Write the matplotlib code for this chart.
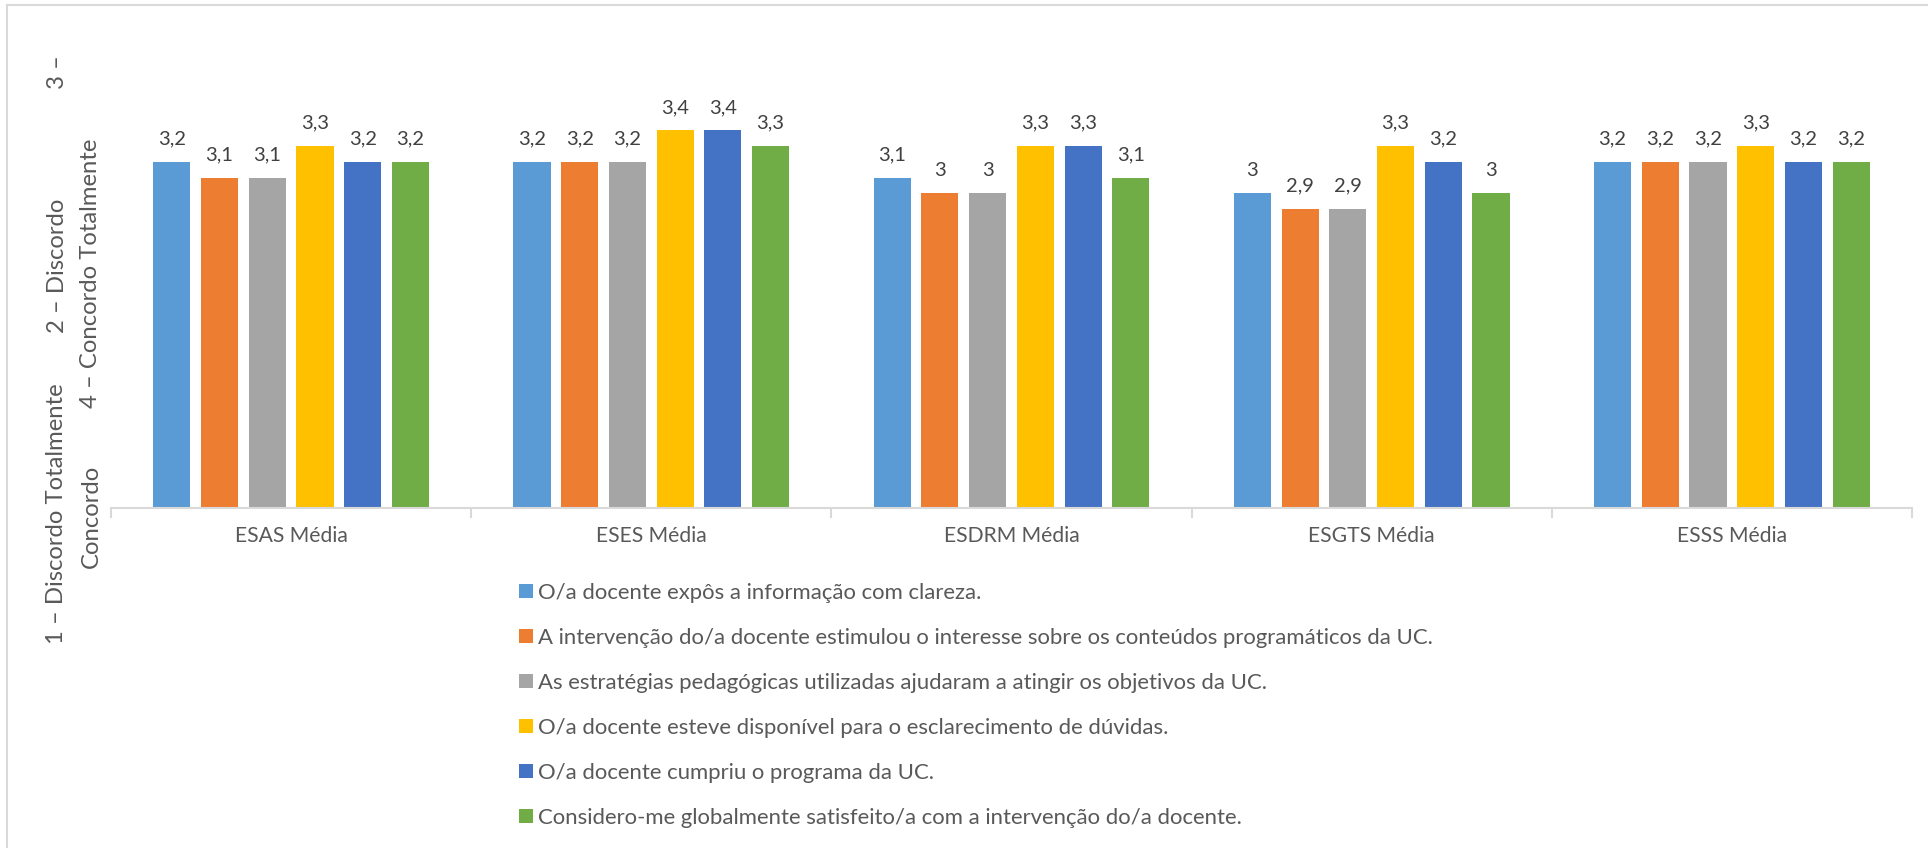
import matplotlib
matplotlib.use("Agg")
import matplotlib.pyplot as plt
import matplotlib.patches as mpatches
from matplotlib.lines import Line2D
import numpy as np

plt.rcParams['font.family'] = ['Lato', 'DejaVu Sans']

categories = ["ESAS Média", "ESES Média", "ESDRM Média", "ESGTS Média", "ESSS Média"]
series_names = [
    "O/a docente expôs a informação com clareza.",
    "A intervenção do/a docente estimulou o interesse sobre os conteúdos programáticos da UC.",
    "As estratégias pedagógicas utilizadas ajudaram a atingir os objetivos da UC.",
    "O/a docente esteve disponível para o esclarecimento de dúvidas.",
    "O/a docente cumpriu o programa da UC.",
    "Considero-me globalmente satisfeito/a com a intervenção do/a docente.",
]
clareza = [3.2, 3.2, 3.1, 3.0, 3.2]
interesse = [3.1, 3.2, 3.0, 2.9, 3.2]
estrategias = [3.1, 3.2, 3.0, 2.9, 3.2]
disponivel = [3.3, 3.4, 3.3, 3.3, 3.3]
programa = [3.2, 3.4, 3.3, 3.2, 3.2]
satisfeito = [3.2, 3.3, 3.1, 3.0, 3.2]
series = [clareza, interesse, estrategias, disponivel, programa, satisfeito]
colors = ["#5B9BD5", "#ED7D31", "#A5A5A5", "#FFC000", "#4472C4", "#70AD47"]
# axis title (wrapped in two lines, read bottom-to-top)
ylabel_line1 = ["1 – Discordo Totalmente", "2 – Discordo", "3 –"]
ylabel_line2 = ["Concordo", "4 – Concordo Totalmente"]

W, H = 1928, 848
fig = plt.figure(figsize=(W / 100, H / 100), dpi=100)
ax = fig.add_axes([111 / W, 340 / H, (1912 - 111) / W, (812 - 340) / H])
fig.canvas.draw()
r = fig.canvas.get_renderer()


def measure(s, size, **kw):
    t = fig.text(0, 0, s, fontsize=size, **kw)
    bb = t.get_window_extent(r)
    t.remove()
    return bb


text_color = "#595959"
label_color = "#404040"

# font sizes fitted to the reference text extents (pixels)
fs_data = 10 * 28 / measure("3,2", 10).width
fs_cat = 10 * 113 / measure(categories[0], 10).width
fs_leg = 10 * 445 / measure(series_names[0], 10).width
fs_y = 10 * 267 / np.mean([measure(ylabel_line1[0], 10, rotation=90).height,
                           measure(ylabel_line2[1], 10, rotation=90).height])

n = len(series)
step = 0.1325
width = 0.103
x = np.arange(len(categories))
for j, (vals, col) in enumerate(zip(series, colors)):
    pos = x + (j - (n - 1) / 2) * step
    ax.bar(pos, vals, width=width, bottom=0, color=col, zorder=2)
    for xp, v in zip(pos, vals):
        lab = f"{v:g}".replace(".", ",")
        ax.annotate(lab, (xp, v), xytext=(0, 12.5), textcoords="offset points",
                    ha="center", va="baseline", fontsize=fs_data, color=label_color)

ax.set_xlim(-0.5, len(categories) - 0.5)
ax.set_ylim(1, 4)
for s in ["top", "right", "left"]:
    ax.spines[s].set_visible(False)
ax.spines["bottom"].set_color("#D9D9D9")
ax.spines["bottom"].set_linewidth(1.5)
ax.set_yticks([])
ax.set_xticks(x)
ax.set_xticklabels(categories, fontsize=fs_cat, color=text_color)
ax.tick_params(axis="x", which="major", length=0, pad=13)
ax.set_xticks(np.arange(len(categories) + 1) - 0.5, minor=True)
ax.tick_params(axis="x", which="minor", length=7, width=1.5, color="#D9D9D9", direction="out")

# axis title pieces: (text, x centre px, y centre px from top)
y_pieces = [
    (ylabel_line1[0], 57, 514),
    (ylabel_line1[1], 57, 266),
    (ylabel_line1[2], 57, 72),
    (ylabel_line2[0], 91, 516),
    (ylabel_line2[1], 91, 273),
]
for s, xc, yc in y_pieces:
    fig.text(xc / W, 1 - yc / H, s, rotation=90, ha="center", va="center",
             fontsize=fs_y, color=text_color)

handles = [mpatches.Patch(color=c, linewidth=0) for c in colors]
fs_leg_px = fs_leg * 100 / 72
spacing = 1.2
anchor_top = 575
for _ in range(3):
    leg = fig.legend(handles, series_names, loc="upper left",
                     bbox_to_anchor=(519 / W, 1 - anchor_top / H),
                     frameon=False, fontsize=fs_leg, handlelength=14 / fs_leg_px,
                     handleheight=14 / fs_leg_px, handletextpad=5 / fs_leg_px,
                     labelspacing=spacing, borderaxespad=0, borderpad=0)
    for t in leg.get_texts():
        t.set_color(text_color)
    fig.canvas.draw()
    bbs = [t.get_window_extent(r) for t in leg.get_texts()]
    c0 = H - (bbs[0].y0 + bbs[0].y1) / 2
    c1 = H - (bbs[1].y0 + bbs[1].y1) / 2
    d = c1 - c0
    spacing += (45 - d) / fs_leg_px
    anchor_top += 593 - c0
    leg.remove()

leg = fig.legend(handles, series_names, loc="upper left",
                 bbox_to_anchor=(519 / W, 1 - anchor_top / H),
                 frameon=False, fontsize=fs_leg, handlelength=14 / fs_leg_px,
                 handleheight=14 / fs_leg_px, handletextpad=5 / fs_leg_px,
                 labelspacing=spacing, borderaxespad=0, borderpad=0)
for t in leg.get_texts():
    t.set_color(text_color)

fig.add_artist(Line2D([7 / W, 7 / W], [0, 1 - 5 / H], color="#D9D9D9", lw=1.5))
fig.add_artist(Line2D([7 / W, 1], [1 - 5 / H, 1 - 5 / H], color="#D9D9D9", lw=1.5))

fig.savefig("out.png", dpi=100)
